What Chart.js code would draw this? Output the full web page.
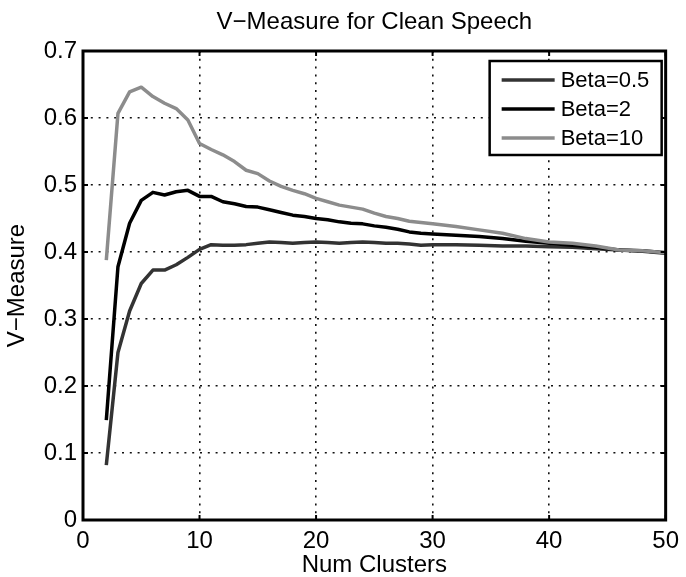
<!DOCTYPE html>
<html>
<head>
<meta charset="utf-8">
<script src="https://cdn.jsdelivr.net/npm/chart.js@4/dist/chart.umd.min.js"></script>
<style>
  html, body { margin: 0; padding: 0; background: #fff; }
  #c { display: block; }
</style>
</head>
<body>
<canvas id="c" width="686" height="577"></canvas>
<script>
// Number of clusters
const clusters = [2, 3, 4, 5, 6, 7, 8, 9, 10, 11, 12, 13, 14, 15, 16, 17, 18, 19, 20,
  21, 22, 23, 24, 25, 26, 27, 28, 29, 30, 32, 34, 36, 38, 40, 42, 44, 46, 48, 50];

// V-Measure per beta setting
const beta05 = [0.082, 0.250, 0.312, 0.353, 0.373, 0.373, 0.381, 0.392, 0.404, 0.411,
  0.410, 0.410, 0.411, 0.413, 0.415, 0.414, 0.413, 0.414, 0.415, 0.414, 0.413, 0.414,
  0.415, 0.414, 0.413, 0.413, 0.412, 0.410, 0.411, 0.411, 0.410, 0.409, 0.409, 0.408,
  0.407, 0.405, 0.403, 0.401, 0.398];
const beta2 = [0.149, 0.378, 0.443, 0.477, 0.489, 0.485, 0.490, 0.492, 0.483, 0.483,
  0.475, 0.472, 0.468, 0.467, 0.463, 0.459, 0.455, 0.453, 0.450, 0.448, 0.445, 0.443,
  0.442, 0.439, 0.437, 0.434, 0.430, 0.428, 0.427, 0.425, 0.423, 0.420, 0.416, 0.413,
  0.410, 0.407, 0.403, 0.402, 0.399];
const beta10 = [0.388, 0.607, 0.639, 0.646, 0.632, 0.622, 0.614, 0.597, 0.562, 0.553,
  0.545, 0.535, 0.522, 0.517, 0.506, 0.498, 0.492, 0.487, 0.480, 0.475, 0.470, 0.467,
  0.464, 0.458, 0.453, 0.450, 0.446, 0.444, 0.442, 0.438, 0.433, 0.428, 0.420, 0.415,
  0.413, 0.409, 0.403, 0.402, 0.399];

const seriesLabels = ['Beta=0.5', 'Beta=2', 'Beta=10'];
const xTickLabels = ['0', '10', '20', '30', '40', '50'];
const yTickLabels = ['0', '0.1', '0.2', '0.3', '0.4', '0.5', '0.6', '0.7'];

const FONT = '"Liberation Sans", Arial, Helvetica, sans-serif';
const colors = ['#333333', '#000000', '#8c8c8c'];

const toPoints = (ys) => clusters.map((x, i) => ({ x, y: ys[i] }));

// Axes frame with inward tick marks
const framePlugin = {
  id: 'frame',
  afterDatasetsDraw(chart) {
    const { ctx, chartArea: a, scales } = chart;
    ctx.save();
    ctx.strokeStyle = '#000';
    ctx.lineWidth = 2;
    const len = 5;
    ctx.beginPath();
    scales.x.ticks.forEach(t => {
      const px = scales.x.getPixelForValue(t.value);
      ctx.moveTo(px, a.bottom); ctx.lineTo(px, a.bottom - len);
      ctx.moveTo(px, a.top); ctx.lineTo(px, a.top + len);
    });
    scales.y.ticks.forEach(t => {
      const py = scales.y.getPixelForValue(t.value);
      ctx.moveTo(a.left, py); ctx.lineTo(a.left + len, py);
      ctx.moveTo(a.right, py); ctx.lineTo(a.right - len, py);
    });
    ctx.stroke();
    ctx.lineWidth = 3;
    ctx.strokeRect(a.left, a.top, a.right - a.left, a.bottom - a.top);
    ctx.restore();
  }
};

// Boxed legend in the upper-right corner of the plot
const boxLegend = {
  id: 'boxLegend',
  afterDraw(chart) {
    const { ctx, chartArea: a } = chart;
    const w = 172, h = 94;
    const x0 = a.right - 4 - w, y0 = a.top + 10;
    ctx.save();
    ctx.fillStyle = '#fff';
    ctx.fillRect(x0, y0, w, h);
    ctx.strokeStyle = '#000';
    ctx.lineWidth = 2.5;
    ctx.strokeRect(x0, y0, w, h);
    ctx.font = '22px ' + FONT;
    ctx.textBaseline = 'middle';
    ctx.textAlign = 'left';
    chart.data.datasets.forEach((ds, i) => {
      const yy = y0 + 19 + i * 29;
      ctx.strokeStyle = ds.borderColor;
      ctx.lineWidth = ds.borderWidth;
      ctx.beginPath();
      ctx.moveTo(x0 + 12, yy);
      ctx.lineTo(x0 + 65, yy);
      ctx.stroke();
      ctx.fillStyle = '#000';
      ctx.fillText(ds.label, x0 + 71, yy + 1);
    });
    ctx.restore();
  }
};

const gridStyle = {
  color: '#111',
  lineWidth: 1.6,
  drawTicks: false
};
const borderStyle = { display: false, dash: [2, 5.8] };

new Chart(document.getElementById('c'), {
  type: 'line',
  data: {
    datasets: [
      { label: seriesLabels[0], data: toPoints(beta05), borderColor: colors[0], borderWidth: 3.5, order: 3 },
      { label: seriesLabels[1], data: toPoints(beta2), borderColor: colors[1], borderWidth: 3.5, order: 2 },
      { label: seriesLabels[2], data: toPoints(beta10), borderColor: colors[2], borderWidth: 3.5, order: 1 }
    ]
  },
  options: {
    responsive: false,
    animation: false,
    elements: {
      point: { radius: 0 },
      line: { tension: 0, borderJoinStyle: 'round', borderCapStyle: 'butt', fill: false }
    },
    layout: { padding: { left: 0, right: 15, top: 0, bottom: 0 } },
    plugins: {
      legend: { display: false },
      tooltip: { enabled: false },
      title: {
        display: true,
        fullSize: false,
        text: 'V\u2212Measure for Clean Speech',
        color: '#000',
        font: { family: FONT, size: 24, weight: 'normal', lineHeight: 1.2 },
        padding: { top: 8, bottom: 14.2 }
      }
    },
    scales: {
      x: {
        type: 'linear',
        min: 0, max: 50,
        border: borderStyle,
        grid: gridStyle,
        ticks: {
          stepSize: 10,
          color: '#000',
          padding: 7,
          maxRotation: 0,
          font: { family: FONT, size: 24 },
          callback: (v) => xTickLabels[Math.round(v / 10)]
        },
        title: {
          display: true,
          text: 'Num Clusters',
          color: '#000',
          font: { family: FONT, size: 24, lineHeight: 1.0 },
          padding: { top: 0, bottom: 0 }
        },
        afterFit: (s) => { s.height = 57; }
      },
      y: {
        type: 'linear',
        min: 0, max: 0.7,
        border: borderStyle,
        grid: gridStyle,
        ticks: {
          stepSize: 0.1,
          color: '#000',
          padding: 6,
          font: { family: FONT, size: 24 },
          callback: (v) => yTickLabels[Math.round(v * 10)]
        },
        title: {
          display: true,
          text: 'V\u2212Measure',
          color: '#000',
          font: { family: FONT, size: 24, lineHeight: 1.2 },
          padding: { top: 3, bottom: 0 }
        },
        afterFit: (s) => { s.width = 83; }
      }
    }
  },
  plugins: [framePlugin, boxLegend]
});
</script>
</body>
</html>
